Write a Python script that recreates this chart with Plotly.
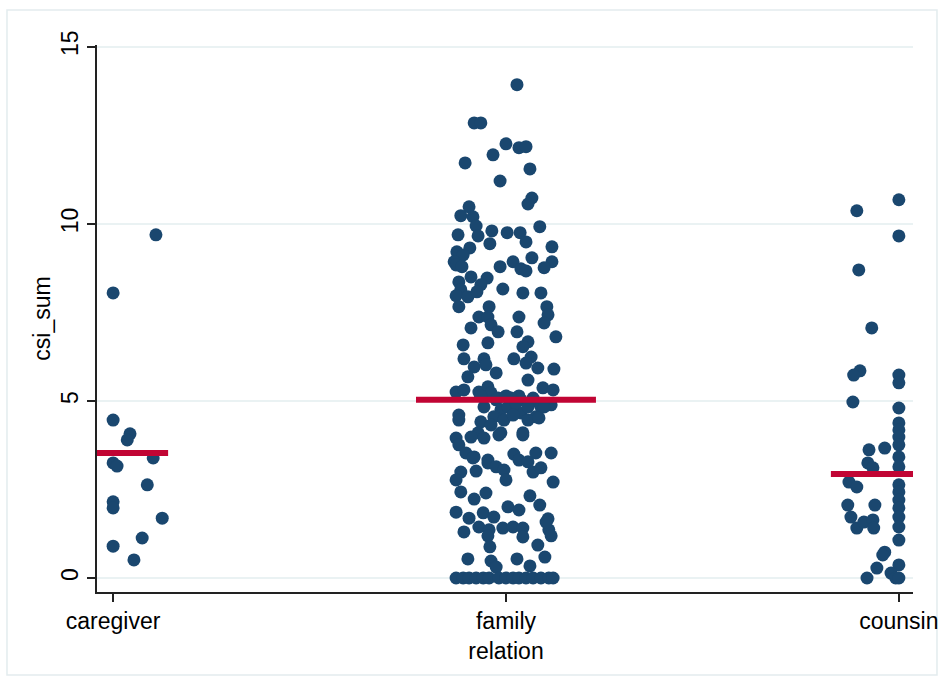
import plotly.graph_objects as go

# ---------------- data ----------------
categories = ["caregiver", "family<br>relation", "counsin"]
cat_pos = [1, 2, 3]
y_ticks = [0, 5, 10, 15]

# caregiver
care_y = [9.69, 8.05, 4.46, 4.07, 3.90, 3.39, 3.25, 3.16, 2.63, 2.15, 1.98, 1.69, 1.13, 0.90, 0.51]
care_jit = [0.109, 0.0, 0.0, 0.043, 0.036, 0.102, 0.0, 0.010, 0.087, 0.0, 0.0, 0.125, 0.074, 0.0, 0.053]

# family relation
fam_y = [13.93, 12.85, 12.85, 12.26, 11.95, 12.15, 12.18, 11.72, 11.55, 11.21, 10.73,
         10.56, 10.48, 10.23, 10.20, 9.94, 9.92, 9.69, 9.66, 9.80, 9.75, 9.75, 9.49, 9.44, 9.35,
         9.21, 9.32, 9.12, 8.93, 8.84, 8.79, 8.79, 8.93, 9.04, 8.93, 8.76, 8.73, 8.67, 8.50, 8.36,
         8.47, 8.28, 8.14, 8.16, 8.05, 8.05, 7.97, 7.94, 8.08, 7.66, 7.66, 7.66, 7.37, 7.37, 7.37, 7.43,
         7.06, 7.15, 6.95, 6.95, 7.20, 6.81, 6.64, 6.67, 6.58, 6.53, 6.19, 6.19, 6.19, 6.24,
         5.96, 6.02, 6.07, 5.93, 5.90, 5.68, 5.79, 5.59, 5.37, 5.31, 5.25, 5.31, 5.25, 5.40, 5.14, 5.23,
         5.03, 5.08, 5.03, 5.08, 5.14, 5.08, 5.14, 4.97, 4.69, 4.66,
         4.83, 4.75, 4.83, 4.94, 4.83, 4.83, 4.89, 4.60, 4.55, 4.46, 4.60, 4.55, 4.46, 4.46,
         4.41, 4.32, 4.10, 4.10, 4.10, 4.52, 4.83,
         3.95, 3.98, 3.95, 4.04, 4.04, 3.76, 3.53, 3.42, 3.50, 3.53, 3.53, 3.33, 3.28, 3.39, 3.33,
         2.99, 3.02, 3.25, 3.14, 3.05, 2.99, 3.11, 2.77, 2.77, 2.71, 2.43, 2.23, 2.40, 2.32,
         1.86, 2.01, 1.92, 2.06, 1.69, 1.84, 1.72, 1.67, 1.30, 1.44, 1.36, 1.41, 1.44, 1.41, 1.36, 1.58,
         1.19, 1.16, 1.19, 0.93, 0.88, 0.54, 0.48, 0.54, 0.59, 0.31, 0.34,
         0, 0, 0, 0, 0, 0, 0, 0, 0, 0, 0, 0, 0, 0, 0]
fam_jit = [0.028, -0.081, -0.064, 0.0, -0.033, 0.033, 0.051, -0.104, 0.061, -0.015, 0.066,
           0.056, -0.094, -0.115, -0.084, -0.076, 0.086, -0.122, -0.071, -0.036, 0.003, 0.036, 0.051, -0.041, 0.117,
           -0.125, -0.092, -0.109, -0.132, -0.127, -0.112, -0.015, 0.018, 0.066, 0.117, 0.097, 0.038, 0.051, -0.089, -0.120,
           -0.048, -0.064, -0.115, -0.008, 0.043, 0.089, -0.127, -0.097, -0.074, -0.120, -0.043, 0.104, -0.069, -0.046, 0.033, 0.107,
           -0.089, -0.038, -0.020, 0.028, 0.097, 0.127, -0.046, 0.056, -0.109, 0.043, -0.107, -0.056, 0.020, 0.064,
           -0.081, -0.051, 0.051, 0.081, 0.122, -0.097, -0.025, 0.056, 0.094, 0.120, -0.127, -0.107, -0.069, -0.046, 0.033, -0.038,
           -0.025, 0.013, 0.038, 0.069, -0.064, -0.020, 0.0, 0.064, 0.018, 0.038,
           -0.056, -0.013, 0.005, 0.025, 0.056, 0.089, 0.115, -0.120, -0.031, -0.005, 0.018, 0.076, 0.056, -0.120,
           -0.064, -0.038, -0.071, -0.013, 0.043, 0.084, 0.097,
           -0.127, -0.089, -0.056, -0.018, 0.043, -0.120, -0.102, -0.081, 0.020, 0.076, 0.115, 0.033, 0.056, -0.084, -0.046,
           -0.115, -0.076, -0.046, -0.025, -0.005, 0.069, 0.089, -0.127, 0.0, 0.120, -0.115, -0.081, -0.051, 0.061,
           -0.127, 0.005, 0.033, 0.086, -0.094, -0.058, -0.031, 0.107, -0.107, -0.069, -0.043, -0.008, 0.018, 0.043, 0.109, 0.102,
           -0.046, 0.043, 0.115, 0.081, -0.041, -0.097, -0.038, 0.028, 0.099, -0.025, 0.061,
           -0.127, -0.109, -0.094, -0.076, -0.058, -0.043, -0.018, 0.0, 0.018, 0.033, 0.051, 0.069, 0.089, 0.109, 0.120]

# counsin
cou_y = [10.68, 10.37, 9.66, 8.70, 7.06, 5.85, 5.73, 5.73, 5.51, 4.97, 4.80,
         4.38, 4.18, 3.98, 3.76, 3.42, 3.14, 2.63, 2.43, 2.20, 1.98, 1.72, 1.44, 1.07,
         3.62, 3.67, 3.25, 3.11, 2.71, 2.57, 2.06, 2.06, 1.72, 1.41, 1.58, 1.64, 1.41,
         0.73, 0.65, 0.28, 0.00, 0.37, 0.14, 0.00, 0.00]
cou_jit = [0.0, -0.107, 0.0, -0.102, -0.069, -0.099, -0.115, 0.0, 0.0, -0.117, 0.0,
           0.0, 0.0, 0.0, 0.0, 0.0, 0.0, 0.0, 0.0, 0.0, 0.0, 0.0, 0.0, 0.0,
           -0.076, -0.036, -0.079, -0.066, -0.127, -0.107, -0.130, -0.061, -0.122, -0.107, -0.089, -0.066, -0.064,
           -0.036, -0.041, -0.056, -0.081, 0.0, -0.020, -0.008, 0.0]

# group means
means = [3.53, 5.03, 2.94]
mean_left = [-0.23, -0.229, -0.173]
mean_right = [0.14, 0.229, 0.23]

NAVY = "#1a476f"
RED = "#c10534"
FONT = "Liberation Sans, Arial, sans-serif"

fig = go.Figure()

groups = [(care_y, care_jit), (fam_y, fam_jit), (cou_y, cou_jit)]
for pos, (ys, js) in zip(cat_pos, groups):
    fig.add_trace(go.Scatter(
        x=[pos + j for j in js], y=ys, mode="markers",
        marker=dict(color=NAVY, size=13, line=dict(width=0)),
        showlegend=False, hoverinfo="skip"))

for pos, m, l, r in zip(cat_pos, means, mean_left, mean_right):
    fig.add_trace(go.Scatter(
        x=[pos + l, pos + r], y=[m, m], mode="lines",
        line=dict(color=RED, width=6), showlegend=False, hoverinfo="skip"))

fig.update_layout(
    width=939, height=678,
    margin=dict(l=97, r=26, t=45, b=86, autoexpand=False),
    paper_bgcolor="white", plot_bgcolor="white",
    font=dict(family=FONT, size=24, color="#000000"),
    xaxis=dict(
        range=[0.959, 3.036], tickmode="array", tickvals=cat_pos, ticktext=categories,
        showgrid=False, zeroline=False, showline=True, linecolor="#222222", linewidth=1.5,
        ticks="outside", ticklen=8, tickwidth=1.5, tickcolor="#222222",
        tickfont=dict(size=23)),
    yaxis=dict(
        range=[-0.395, 15.05], tickmode="array", tickvals=y_ticks,
        showgrid=True, gridcolor="#eaf2f3", gridwidth=2, zeroline=False,
        showline=True, linecolor="#222222", linewidth=1.5,
        ticks="outside", ticklen=8, tickwidth=1.5, tickcolor="#222222",
        tickangle=-90, tickfont=dict(size=23),
        title=dict(text="csi_sum", font=dict(size=23), standoff=0)),
    shapes=[dict(type="rect", xref="paper", yref="paper",
                 x0=-0.1103, x1=1.0294, y0=-0.1517, y1=1.064,
                 line=dict(color="#e3ecee", width=1.5), layer="below")],
)

fig.write_html(
    "out.html",
    config={"displayModeBar": False},
    post_script="document.body.style.margin='0';document.body.style.overflow='hidden';",
)
